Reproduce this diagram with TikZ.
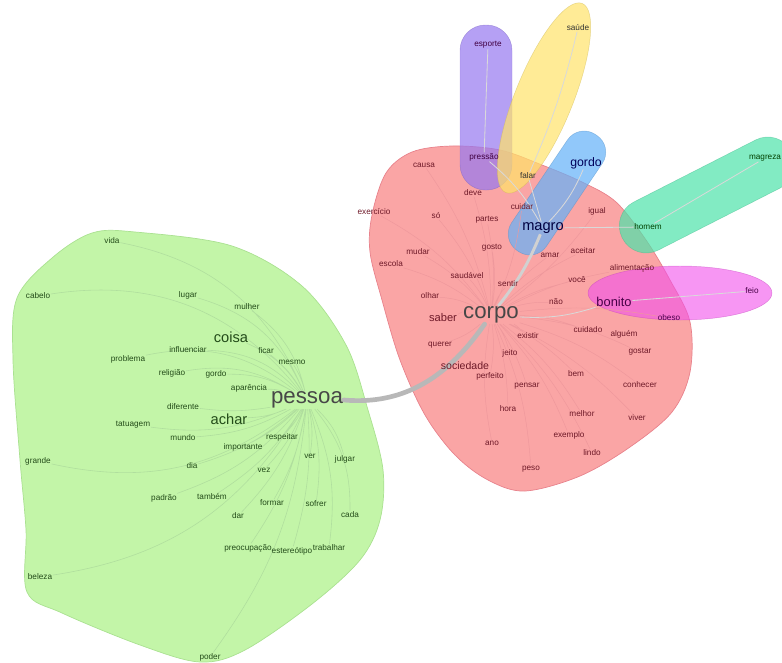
\documentclass[tikz,border=0pt]{standalone}
\usepackage{fontspec}
\setmainfont{Liberation Sans}
\usetikzlibrary{backgrounds}

\definecolor{gfill}{RGB}{195,245,168}
\definecolor{gdraw}{RGB}{170,225,145}
\definecolor{gline}{RGB}{176,222,158}
\definecolor{gtext}{RGB}{35,75,25}
\definecolor{rfill}{RGB}{250,165,165}
\definecolor{rdraw}{RGB}{232,130,140}
\definecolor{rline}{RGB}{238,152,156}
\definecolor{rtext}{RGB}{110,25,40}
\definecolor{pfill}{RGB}{150,120,240}
\definecolor{yfill}{RGB}{255,227,105}
\definecolor{bfill}{RGB}{99,177,248}
\definecolor{tfill}{RGB}{77,227,170}
\definecolor{mfill}{RGB}{241,80,235}

\tikzset{
    word/.style={inner sep=0.5pt, font=\fontsize{7}{8}\selectfont},
    gword/.style={word, text=gtext},
    rword/.style={word, text=rtext},
    big/.style={font=\fontsize{12.5}{13}\selectfont},
    hub/.style={inner sep=0.5pt, font=\fontsize{19}{20}\selectfont, text=black!72},
    hull/.style={draw=#1, line width=0.6pt},
    blob/.style={fill=#1, draw=#1!80!black, fill opacity=0.7, draw opacity=0.5},
    gedge/.style={draw=gline, line width=0.5pt},
    redge/.style={draw=rline, line width=0.4pt},
    link/.style={draw=black!28, line width=4pt, line cap=round}
}

\begin{document}
\begin{tikzpicture}[x=0.03cm, y=-0.03cm]
    \useasboundingbox (0,0) rectangle (782,662);

    % green class
    \node (vida) [gword] at (112,241) {vida};
    \node (cabelo) [gword] at (38,296) {cabelo};
    \node (lugar) [gword] at (188,295) {lugar};
    \node (mulher) [gword] at (247,307) {mulher};
    \node (coisa) [gword, big] at (231,337) {coisa};
    \node (influenciar) [gword] at (188,350) {influenciar};
    \node (ficar) [gword] at (266,351) {ficar};
    \node (mesmo) [gword] at (292,362) {mesmo};
    \node (problema) [gword] at (128,359) {problema};
    \node (religiao) [gword] at (172,373) {religião};
    \node (gordoA) [gword] at (216,374) {gordo};
    \node (aparencia) [gword] at (249,388) {aparência};
    \node (pessoa) [hub] at (307,400) {pessoa};
    \node (diferente) [gword] at (183,407) {diferente};
    \node (achar) [gword, big] at (229,419) {achar};
    \node (tatuagem) [gword] at (133,425) {tatuagem};
    \node (mundo) [gword] at (183,438) {mundo};
    \node (respeitar) [gword] at (282,437) {respeitar};
    \node (importante) [gword] at (243,447) {importante};
    \node (ver) [gword] at (310,456) {ver};
    \node (julgar) [gword] at (345,459) {julgar};
    \node (dia) [gword] at (192,466) {dia};
    \node (vez) [gword] at (264,470) {vez};
    \node (padrao) [gword] at (164,498) {padrão};
    \node (tambem) [gword] at (212,497) {também};
    \node (formar) [gword] at (272,503) {formar};
    \node (sofrer) [gword] at (316,504) {sofrer};
    \node (dar) [gword] at (238,516) {dar};
    \node (cada) [gword] at (350,515) {cada};
    \node (preocupacao) [gword] at (248,548) {preocupação};
    \node (estereotipo) [gword] at (292,551) {estereótipo};
    \node (trabalhar) [gword] at (329,548) {trabalhar};
    \node (grande) [gword] at (38,461) {grande};
    \node (beleza) [gword] at (40,577) {beleza};
    \node (poder) [gword] at (210,657) {poder};

    % red class
    \node (causa) [rword] at (424,165) {causa};
    \node (deve) [rword] at (473,193) {deve};
    \node (exercicio) [rword] at (374,212) {exercício};
    \node (so) [rword] at (436,216) {só};
    \node (partes) [rword] at (487,220) {partes};
    \node (cuidar) [rword] at (522,207) {cuidar};
    \node (igual) [rword] at (597,211) {igual};
    \node (mudar) [rword] at (418,252) {mudar};
    \node (gosto) [rword] at (492,248) {gosto};
    \node (escola) [rword] at (391,264) {escola};
    \node (saudavel) [rword] at (467,276) {saudável};
    \node (sentir) [rword] at (508,284) {sentir};
    \node (amar) [rword] at (550,255) {amar};
    \node (aceitar) [rword] at (583,251) {aceitar};
    \node (alimentacao) [rword] at (632,268) {alimentação};
    \node (voce) [rword] at (577,280) {você};
    \node (olhar) [rword] at (430,296) {olhar};
    \node (nao) [rword] at (556,302) {não};
    \node (saber) [rword, font=\fontsize{9.5}{10}\selectfont] at (443,318) {saber};
    \node (corpo) [hub] at (491,315) {corpo};
    \node (existir) [rword] at (528,336) {existir};
    \node (cuidado) [rword] at (588,330) {cuidado};
    \node (alguem) [rword] at (624,334) {alguém};
    \node (gostar) [rword] at (640,352) {gostar};
    \node (querer) [rword] at (440,345) {querer};
    \node (jeito) [rword] at (510,353) {jeito};
    \node (sociedade) [rword, font=\fontsize{9}{10}\selectfont] at (465,366) {sociedade};
    \node (perfeito) [rword] at (490,376) {perfeito};
    \node (bem) [rword] at (576,374) {bem};
    \node (pensar) [rword] at (527,386) {pensar};
    \node (conhecer) [rword] at (640,385) {conhecer};
    \node (hora) [rword] at (508,409) {hora};
    \node (melhor) [rword] at (582,414) {melhor};
    \node (viver) [rword] at (637,418) {viver};
    \node (exemplo) [rword] at (569,435) {exemplo};
    \node (ano) [rword] at (492,443) {ano};
    \node (lindo) [rword] at (592,453) {lindo};
    \node (peso) [rword] at (531,469) {peso};
    \node (obeso) [rword, text=violet!60!black] at (669,318) {obeso};

    % small classes
    \node (esporte) [word, text=violet!50!black] at (488,45) {esporte};
    \node (pressao) [word, text=violet!50!black] at (484,157) {pressão};
    \node (saude) [word, text=black!80] at (578,28) {saúde};
    \node (falar) [word, text=black!80] at (528,176) {falar};
    \node (gordo) [word, big, font=\fontsize{10.5}{11}\selectfont, text=blue!35!black] at (586,163) {gordo};
    \node (magro) [word, big, text=blue!25!black] at (543,228) {magro};
    \node (homem) [word, text=green!25!black] at (648,227) {homem};
    \node (magreza) [word, text=green!25!black] at (765,158) {magreza};
    \node (bonito) [word, big, font=\fontsize{11}{12}\selectfont, text=violet!55!black] at (614,302) {bonito};
    \node (feio) [word, text=violet!55!black] at (752,291) {feio};

    \begin{pgfonlayer}{background}
    % clusters
    \filldraw [hull=gdraw, fill=gfill] plot [smooth cycle, tension=0.55] coordinates {
        (135,232) (92,233) (52,258) (17,298) (13,360) (20,460) (26,530)
        (27,592) (62,613) (140,645) (200,662) (245,650) (312,604) (360,560)
        (380,520) (383,470) (368,410) (346,345) (302,286) (232,246)};
    \filldraw [hull=rdraw, fill=rfill] plot [smooth cycle, tension=0.55] coordinates {
        (372,215) (386,173) (412,152) (452,146) (500,150) (542,165) (582,182)
        (616,202) (646,240) (670,280) (690,322) (690,372) (672,412) (630,447)
        (580,476) (525,491) (488,480) (455,455) (425,415) (400,360) (382,300) (370,252)};
    \fill [blob=pfill, rounded corners=0.76cm] (460,25) rectangle (512,190);
    \fill [blob=yfill, shift={(544,98)}, rotate=68] (0,0) ellipse (102 and 29);
    \fill [blob=bfill, shift={(557,193)}, rotate=56, rounded corners=0.6cm] (-70,-21) rectangle (70,21);
    \fill [blob=tfill, shift={(707,195)}, rotate=27, rounded corners=0.8cm] (-95,-27) rectangle (95,27);
    \fill [blob=mfill, fill opacity=0.6] (680,293) ellipse (92 and 27);

    % links
    \draw [gedge] (pessoa) to[bend right=18] (coisa)
        (pessoa) to[bend left=10] (achar)
        (pessoa) to[bend right=8] (aparencia)
        (pessoa) to[bend right=15] (gordoA)
        (pessoa) to[bend right=20] (religiao)
        (pessoa) to[bend right=22] (influenciar)
        (pessoa) to[bend right=25] (problema)
        (pessoa) to[bend right=25] (lugar)
        (pessoa) to[bend right=28] (vida)
        (pessoa) to[bend right=30] (cabelo)
        (pessoa) to[bend right=20] (mulher)
        (pessoa) to[bend right=10] (ficar)
        (pessoa) to[bend right=8] (mesmo)
        (pessoa) to[bend left=8] (diferente)
        (pessoa) to[bend left=15] (tatuagem)
        (pessoa) to[bend left=25] (grande)
        (pessoa) to[bend left=12] (mundo)
        (pessoa) to[bend left=8] (respeitar)
        (pessoa) to[bend left=8] (importante)
        (pessoa) to[bend left=10] (ver)
        (pessoa) to[bend left=15] (julgar)
        (pessoa) to[bend left=12] (dia)
        (pessoa) to[bend left=10] (vez)
        (pessoa) to[bend left=15] (padrao)
        (pessoa) to[bend left=12] (tambem)
        (pessoa) to[bend left=10] (formar)
        (pessoa) to[bend left=12] (sofrer)
        (pessoa) to[bend left=12] (dar)
        (pessoa) to[bend left=20] (cada)
        (pessoa) to[bend left=12] (preocupacao)
        (pessoa) to[bend left=10] (estereotipo)
        (pessoa) to[bend left=15] (trabalhar)
        (pessoa) to[bend left=25] (beleza)
        (pessoa) to[bend left=15] (poder);
    \draw [redge] (corpo) to[bend left=10] (sentir)
        (corpo) to[bend right=10] (saber)
        (corpo) to[bend left=10] (querer)
        (corpo) to[bend left=8] (jeito)
        (corpo) to[bend left=8] (perfeito)
        (corpo) to[bend left=8] (pensar)
        (corpo) to[bend left=8] (bem)
        (corpo) to[bend left=8] (existir)
        (corpo) to[bend left=8] (nao)
        (corpo) to[bend right=8] (gosto)
        (corpo) to[bend right=8] (saudavel)
        (corpo) to[bend right=10] (olhar)
        (corpo) to[bend right=10] (mudar)
        (corpo) to[bend right=10] (escola)
        (corpo) to[bend right=12] (exercicio)
        (corpo) to[bend right=10] (so)
        (corpo) to[bend right=8] (partes)
        (corpo) to[bend right=8] (deve)
        (corpo) to[bend right=10] (causa)
        (corpo) to[bend left=8] (cuidado)
        (corpo) to[bend left=10] (gostar)
        (corpo) to[bend left=10] (conhecer)
        (corpo) to[bend left=10] (melhor)
        (corpo) to[bend left=10] (exemplo)
        (corpo) to[bend left=10] (lindo)
        (corpo) to[bend left=10] (peso)
        (corpo) to[bend right=10] (ano)
        (corpo) to[bend left=8] (hora)
        (corpo) to[bend left=10] (viver)
        (corpo) to[bend left=8] (voce)
        (corpo) to[bend left=8] (amar)
        (corpo) to[bend left=8] (aceitar)
        (corpo) to[bend left=8] (alimentacao)
        (corpo) to[bend right=8] (igual)
        (corpo) to[bend right=8] (cuidar)
        (corpo) to[bend left=8] (obeso);
    \draw [draw=black!15, line width=0.7pt] (pressao) -- (esporte)
        (falar) to[bend right=5] (saude)
        (magro) to[bend right=10] (gordo)
        (homem) -- (magreza)
        (bonito) -- (feio)
        (magro) -- (falar)
        (magro) to[bend right=10] (pressao)
        (magro) -- (homem)
        (corpo) to[bend right=10] (bonito);
    \draw [draw=black!18, line width=2.5pt] (corpo) to[bend right=8] (magro);
    \draw [link] (pessoa.east) to[out=-5, in=-125] (corpo);
    \end{pgfonlayer}
\end{tikzpicture}
\end{document}
